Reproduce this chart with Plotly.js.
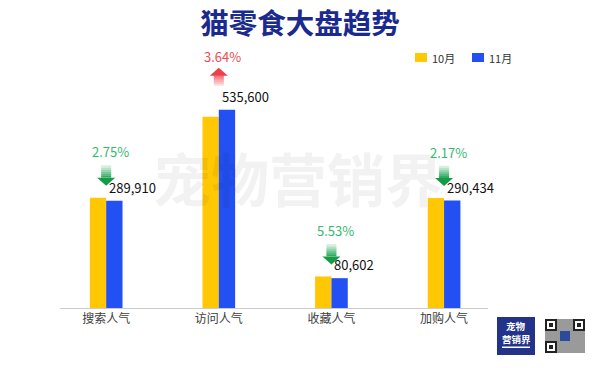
<!DOCTYPE html>
<html><head><meta charset="utf-8">
<script src="https://cdn.plot.ly/plotly-3.0.1.min.js"></script>
<style>html,body{margin:0;padding:0;background:#fff}#chart{width:600px;height:368px}</style>
</head><body><div id="chart"></div>
<script>
const categories = ['搜索人气','访问人气','收藏人气','加购人气'];
const seriesNames = ['10月','11月'];
const oct = [298100, 516800, 85300, 296900];
const nov = [289910, 535600, 80602, 290434];
const changeLabels = ['2.75%','3.64%','5.53%','2.17%'];
const changeDir = ['down','up','down','down'];
const chartTitle = '猫零食大盘趋势';
const watermark = '宠物营销界';
const logoLines = ['宠物','营销界'];

const FONT = '"Noto Sans CJK SC", "Noto Sans", sans-serif';
const YELLOW = '#FFC704', BLUE = '#2350F2';
const GREEN = '#35B870', RED = '#F04A55';
const seriesColors = [YELLOW, BLUE];

const traces = [
  {type:'bar', name:seriesNames[0], x:categories, y:oct, marker:{color:YELLOW}, hoverinfo:'skip'},
  {type:'bar', name:seriesNames[1], x:categories, y:nov, marker:{color:BLUE}, hoverinfo:'skip'}
];

function mix(c1, c2, t){
  const a=[1,3,5].map(i=>parseInt(c1.substr(i,2),16));
  const b=[1,3,5].map(i=>parseInt(c2.substr(i,2),16));
  return 'rgb('+a.map((v,i)=>Math.round(v+(b[i]-v)*t)).join(',')+')';
}

const shapes = [];
const annotations = [];

// watermark (drawn first so labels sit above it)
annotations.push({x:0.556, y:0.53, xref:'paper', yref:'paper', xanchor:'center', yanchor:'middle',
  showarrow:false, text:'<b>'+watermark+'</b>', font:{family:FONT, size:58, color:'rgba(0,0,0,0.05)'}});

categories.forEach((c, i) => {
  const top = Math.max(oct[i], nov[i]);
  annotations.push({x:c, y:nov[i], xref:'x', yref:'y', xanchor:'left', yanchor:'bottom',
    xshift:1, yshift:2, showarrow:false, text:nov[i].toLocaleString('en-US'),
    font:{family:FONT, size:13, color:'#111'}});
  const up = changeDir[i] === 'up';
  const common = {type:'path', xref:'x', yref:'y', xsizemode:'pixel', ysizemode:'pixel',
    xanchor:c, yanchor:top, line:{width:0}, layer:'above'};
  const n = 6;
  if (!up) {
    const base = 12;
    shapes.push(Object.assign({}, common, {fillcolor:'#169A48',
      path:`M0,${base} L-9,${base+8} L9,${base+8} Z`}));
    for (let k=0;k<n;k++){
      const y0 = base+8+k*2, y1 = y0+2.3;
      shapes.push(Object.assign({}, common, {fillcolor:mix('#1FA652', '#E4F6EA', (k+0.5)/n),
        path:`M-5,${y0} L5,${y0} L5,${y1} L-5,${y1} Z`}));
    }
  } else {
    const base = 24;
    for (let k=0;k<n;k++){
      const y0 = base+k*1.7, y1 = y0+2;
      shapes.push(Object.assign({}, common, {fillcolor:mix('#FDE6E8', '#F26A73', (k+0.5)/n),
        path:`M-5,${y0} L5,${y0} L5,${y1} L-5,${y1} Z`}));
    }
    shapes.push(Object.assign({}, common, {fillcolor:'#EE3E4A',
      path:`M-9,${base+10} L9,${base+10} L0,${base+18} Z`}));
  }
  annotations.push({x:c, y:top, xref:'x', yref:'y', xanchor:'center', yanchor:'middle',
    xshift:4, yshift: up ? 53 : 46, showarrow:false, text:changeLabels[i],
    font:{family:FONT, size:13, color: up ? RED : GREEN}});
});

const pxShape = (x0,x1,y0,y1,color,ya) => ({type:'rect', xref:'paper', yref:'paper',
  xsizemode:'pixel', ysizemode:'pixel', xanchor:1, yanchor:(ya===undefined?0:ya), x0:x0, x1:x1, y0:y0, y1:y1,
  fillcolor:color, line:{width:0}});
const pxText = (dx, dy, text, size, color, ya, xa) => ({x:1, y:(ya===undefined?0:ya), xref:'paper', yref:'paper',
  xanchor:xa||'center', yanchor:'middle', xshift:dx, yshift:dy, showarrow:false, text:text,
  borderpad:0, font:{family:FONT, size:size, color:color}});

// manual legend (top-right)
seriesNames.forEach((nm, k) => {
  const x0 = -73 + k*57;
  shapes.push(pxShape(x0, x0+12, 7, -2, seriesColors[k], 1));
  annotations.push(pxText(x0+16, 2.5, nm, 11, '#333', 1, 'left'));
});

// logo box
shapes.push(pxShape(9,47,-9,-47,'#23338A'));
shapes.push(pxShape(14,42,-38.5,-40,'#FFFFFF'));
annotations.push(pxText(28, -17.5, '<b>'+logoLines[0]+'</b>', 9.5, '#fff'));
annotations.push(pxText(28, -30.5, '<b>'+logoLines[1]+'</b>', 9.5, '#fff'));
// QR-like block
shapes.push(pxShape(55,99,-9,-47,'#FFFFFF'));
shapes.push(pxShape(57,97,-11,-45,'#9A9A9A'));
[[57,-11],[85,-11],[57,-33]].forEach(([x,y])=>{
  shapes.push(pxShape(x,x+12,y,y-12,'#222'));
  shapes.push(pxShape(x+2,x+10,y-2,y-10,'#fff'));
  shapes.push(pxShape(x+4,x+8,y-4,y-8,'#222'));
});
shapes.push(pxShape(72,82,-23,-33,'#2C4A9A'));

const layout = {
  width:600, height:368,
  margin:{l:60, r:112, t:60, b:60},
  paper_bgcolor:'#fff', plot_bgcolor:'#fff',
  font:{family:FONT, color:'#333'},
  title:{text:'<b>'+chartTitle+'</b>', x:0.5, xref:'container', xanchor:'center',
    y:0.934, yref:'container', yanchor:'middle', font:{family:FONT, size:28.5, color:'#1B2A8E'}},
  barmode:'group', bargap:0.71, bargroupgap:0,
  xaxis:{type:'category', range:[-0.41, 3.39], showline:true, linecolor:'#CCCCCC', linewidth:1,
    ticks:'', showgrid:false, zeroline:false, fixedrange:true,
    tickfont:{family:FONT, size:12, color:'#404040'}},
  yaxis:{range:[0, 670000], visible:false, showgrid:false, zeroline:false, fixedrange:true},
  showlegend:false,
  shapes:shapes, annotations:annotations, hovermode:false
};

Plotly.newPlot('chart', traces, layout, {displayModeBar:false, staticPlot:true});
</script>
</body></html>
